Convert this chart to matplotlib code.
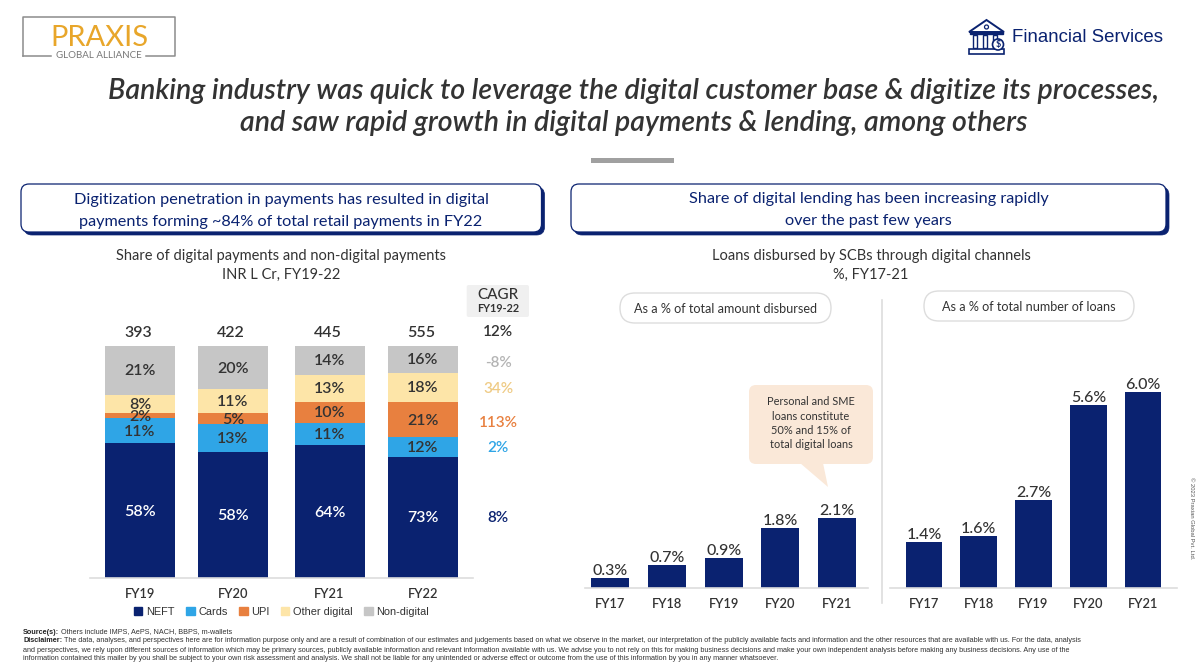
import matplotlib
matplotlib.use('Agg')
from matplotlib import pyplot as plt
from matplotlib.patches import FancyBboxPatch, Polygon, Rectangle, Circle, Patch
from matplotlib.lines import Line2D
import numpy as np

W, H = 1200, 672
NAVY = '#0A2270'
DARK = '#333333'
SANS = 'Lato'
ARIAL = 'Liberation Sans'

plt.rcParams['font.family'] = [SANS, 'DejaVu Sans']

# stacked chart data, labels as printed on the chart
years_pay = ['FY19', 'FY20', 'FY21', 'FY22']
totals = [393, 422, 445, 555]
neft = [58, 58, 64, 73]
cards = [11, 13, 11, 12]
upi = [2, 5, 10, 21]
other_digital = [8, 11, 13, 18]
non_digital = [21, 20, 14, 16]
series_names = ['NEFT', 'Cards', 'UPI', 'Other digital', 'Non-digital']
series_colors = [NAVY, '#2FA5E6', '#E8803F', '#FDE5A8', '#C6C6C6']
cagr_labels = ['12%', '-8%', '34%', '113%', '2%', '8%']
cagr_colors = ['#333333', '#B4B4B4', '#EFCB85', '#E8803F', '#2FA5E6', NAVY]
cagr_y = [332, 363, 389, 423, 448, 518]

# lending data
years_loan = ['FY17', 'FY18', 'FY19', 'FY20', 'FY21']
share_amount = [0.3, 0.7, 0.9, 1.8, 2.1]
share_number = [1.4, 1.6, 2.7, 5.6, 6.0]

fig = plt.figure(figsize=(W / 100, H / 100), dpi=100, facecolor='white')


def axes_px(x0, y0, x1, y1):
    # y0 is top, y1 is bottom, in picture pixels
    return fig.add_axes([x0 / W, 1 - y1 / H, (x1 - x0) / W, (y1 - y0) / H], facecolor='none')


def clean(ax):
    for s in ['top', 'left', 'right']:
        ax.spines[s].set_visible(False)
    ax.spines['bottom'].set_color('#DDDDDD')
    ax.spines['bottom'].set_linewidth(1.2)
    ax.set_yticks([])
    ax.tick_params(axis='x', length=0)


# stacked bars
ax = axes_px(90, 346, 473, 578)
bar_x = [140, 233, 329.5, 423]
stack = np.array([neft, cards, upi, other_digital, non_digital], dtype=float)
share = stack / stack.sum(axis=0) * 100
bottom = np.zeros(4)
for i in range(5):
    ax.bar(bar_x, share[i], 70, bottom=bottom, color=series_colors[i], label=series_names[i])
    for j in range(4):
        ax.text(bar_x[j], bottom[j] + share[i][j] / 2 - 0.4, '%d%%' % stack[i][j], ha='center', va='center',
                fontsize=11.5, color='white' if i == 0 else DARK, fontweight='semibold')
    bottom += share[i]
ax.set_xlim(90, 473)
ax.set_ylim(0, 100)
clean(ax)
ax.set_xticks(bar_x)
ax.set_xticklabels(years_pay, fontsize=9.3, fontweight='semibold', color=DARK)
ax.tick_params(axis='x', pad=7)
for j in range(4):
    ax.text(bar_x[j] - 2, 105.4, str(totals[j]), ha='center', va='center', fontsize=11.5,
            fontweight='semibold', color=DARK)
handles = [Patch(color=c) for c in series_colors]
ax.legend(handles, series_names, loc='center', bbox_to_anchor=(0.5, -0.147), ncol=5, frameon=False,
          prop={'family': ARIAL, 'size': 7.9}, handlelength=0.8, handleheight=0.8, handletextpad=0.35,
          columnspacing=1.0, labelcolor=DARK, borderpad=0)

# lending bars
ax2 = axes_px(585, 388, 868, 588)
b2 = ax2.bar(range(5), share_amount, 0.67, color=NAVY)
ax2.set_xlim(-0.444, 4.547)
ax2.set_ylim(0, 200 / 33.3)
clean(ax2)
ax2.set_xticks(range(5))
ax2.set_xticklabels(years_loan, fontsize=9.3, fontweight='semibold', color=DARK)
ax2.tick_params(axis='x', pad=7)
ax2.bar_label(b2, labels=['%.1f%%' % v for v in share_amount], padding=0, fontsize=11.5, color=DARK,
              fontweight='medium')

ax3 = axes_px(890, 388, 1177, 588)
b3 = ax3.bar(range(5), share_number, 0.667, color=NAVY)
ax3.set_xlim(-0.62, 4.62)
ax3.set_ylim(0, 200 / 32.7)
clean(ax3)
ax3.set_xticks(range(5))
ax3.set_xticklabels(years_loan, fontsize=9.3, fontweight='semibold', color=DARK)
ax3.tick_params(axis='x', pad=7)
ax3.bar_label(b3, labels=['%.1f%%' % v for v in share_number], padding=0, fontsize=11.5, color=DARK,
              fontweight='medium')

# everything else sits on a picture-pixel overlay
ov = fig.add_axes([0, 0, 1, 1], facecolor='none', zorder=5)
ov.set_xlim(0, W)
ov.set_ylim(H, 0)
ov.axis('off')


def header(x0, y0, x1, y1, lines, cx, ys):
    ov.add_patch(FancyBboxPatch((x0 + 3, y0 + 3), x1 - x0, y1 - y0, boxstyle='round,pad=0,rounding_size=8',
                                fc=NAVY, ec=NAVY, lw=0.5))
    ov.add_patch(FancyBboxPatch((x0, y0), x1 - x0, y1 - y0, boxstyle='round,pad=0,rounding_size=8',
                                fc='white', ec=NAVY, lw=0.9))
    for t, y in zip(lines, ys):
        ov.text(cx, y, t, ha='center', va='center', fontsize=11.7, color=NAVY)


# logo
ov.plot([22.6, 22.6, 174.5, 174.5, 146], [55.7, 17, 17, 55.7, 55.7], color='#8C8C8C', lw=1.1)
ov.plot([22.6, 51], [55.7, 55.7], color='#8C8C8C', lw=1.1)
ov.text(99, 37.5, 'PRAXIS', ha='center', va='center', fontsize=21, color='#E8A62A')
ov.text(98.5, 55, 'GLOBAL ALLIANCE', ha='center', va='center', fontsize=7, color='#777777')

# financial services logo
ov.add_patch(Polygon([[969, 32], [986.5, 20], [1004, 32]], closed=True, fc='white', ec=NAVY, lw=1.4))
ov.add_patch(Circle((986.5, 27), 2, fc='white', ec=NAVY, lw=0.9))
ov.add_patch(Rectangle((970, 32), 33, 2.2, fc=NAVY, ec=NAVY))
for cx in [975, 985, 995]:
    ov.add_patch(Rectangle((cx - 2, 35), 4, 13, fc='white', ec=NAVY, lw=1))
ov.add_patch(Rectangle((969, 49), 35, 4.5, fc='white', ec=NAVY, lw=1.2))
ov.add_patch(Circle((998, 44.5), 5.5, fc='white', ec=NAVY, lw=1.2, zorder=6))
ov.text(998, 44.5, '$', ha='center', va='center', fontsize=6.5, fontweight='bold', color=NAVY, zorder=7)
ov.text(1012.5, 37, 'Financial Services', ha='left', va='center', fontsize=13.4, color=NAVY, family=ARIAL)

# title
ov.text(633.5, 90.5, 'Banking industry was quick to leverage the digital customer base & digitize its processes,',
        ha='center', va='center', fontsize=20.5, style='italic', fontweight='semibold', color=DARK)
ov.text(633.5, 123.5, 'and saw rapid growth in digital payments & lending, among others',
        ha='center', va='center', fontsize=20.5, style='italic', fontweight='semibold', color=DARK)
ov.add_patch(Rectangle((590.5, 158), 83.5, 4.7, fc='#A0A0A0', ec='none'))

header(21, 184, 541.5, 232,
       ['Digitization penetration in payments has resulted in digital',
        'payments forming ~84% of total retail payments in FY22'], 281, [200, 222])
header(571, 184, 1166, 232,
       ['Share of digital lending has been increasing rapidly', 'over the past few years'], 868.6, [199, 221])

for t, y in zip(['Share of digital payments and non-digital payments', 'INR L Cr, FY19-22'], [256, 275]):
    ov.text(281, y, t, ha='center', va='center', fontsize=10.5, color=DARK)
for t, y in zip(['Loans disbursed by SCBs through digital channels', '%, FY17-21'], [256, 275]):
    ov.text(871, y, t, ha='center', va='center', fontsize=10.5, color=DARK)

# CAGR column
ov.add_patch(FancyBboxPatch((466.7, 285), 62.3, 32, boxstyle='round,pad=0,rounding_size=2', fc='#F0F0F0', ec='none'))
ov.text(498, 295, 'CAGR', ha='center', va='center', fontsize=11, fontweight='medium', color=DARK)
ov.text(498, 309, 'FY19-22', ha='center', va='center', fontsize=7.8, fontweight='bold', color=DARK)
for t, c, y in zip(cagr_labels, cagr_colors, cagr_y):
    ov.text(498, y, t, ha='center', va='center', fontsize=11, fontweight='semibold', color=c)

# pills
for x0, y0, x1, y1, t in [(620, 293, 831, 323, 'As a % of total amount disbursed'),
                          (924, 291, 1134, 321, 'As a % of total number of loans')]:
    ov.add_patch(FancyBboxPatch((x0, y0), x1 - x0, y1 - y0, boxstyle='round,pad=0,rounding_size=15',
                                fc='white', ec='#DDDDDD', lw=1))
    ov.text((x0 + x1) / 2, (y0 + y1) / 2 + 1, t, ha='center', va='center', fontsize=9.05, color=DARK)
ov.add_line(Line2D([882, 882], [300, 603], color='#DDDDDD', lw=1.2))

# callout
ov.add_patch(FancyBboxPatch((749, 385), 124, 79, boxstyle='round,pad=0,rounding_size=7', fc='#FAE8D8', ec='none'))
ov.add_patch(Polygon([[800, 463], [823, 463], [828, 487]], closed=True, fc='#FAE8D8', ec='none'))
for t, y in zip(['Personal and SME', 'loans constitute', '50% and 15% of', 'total digital loans'], [401.5, 416, 430.5, 445]):
    ov.text(811, y, t, ha='center', va='center', fontsize=7.9, color=DARK)

ov.text(1191, 518, '© 2023 Praxian Global Pvt. Ltd.', rotation=270, ha='center', va='center',
        fontsize=4.2, color='#555555', family=ARIAL)


# footer
def bold_then_plain(x, y, head, rest, size):
    tb = ov.text(x, y, head, ha='left', va='center', fontsize=size, fontweight='bold', color='#222222', family=ARIAL)
    bb = tb.get_window_extent(fig.canvas.get_renderer())
    ov.text(bb.x1 + 2, y, rest, ha='left', va='center', fontsize=size, color='#333333', family=ARIAL)


FOOT = 5.2
bold_then_plain(23, 632, 'Source(s):', 'Others include IMPS, AePS, NACH, BBPS, m-wallets', FOOT)
bold_then_plain(23, 641, 'Disclaimer:',
                'The data, analyses, and perspectives here are for information purpose only and are a result of combination of our estimates and judgements based on what we observe in the market, our interpretation of the publicly available facts and information and the other resources that are available with us. For the data, analysis',
                FOOT)
ov.text(23, 650, 'and perspectives, we rely upon different sources of information which may be primary sources, publicly available information and relevant information available with us. We advise you to not rely on this for making business decisions and make your own independent analysis before making any business decisions. Any use of the',
        ha='left', va='center', fontsize=FOOT, color='#333333', family=ARIAL)
ov.text(23, 659, 'information contained this mailer by you shall be subject to your own risk assessment and analysis. We shall not be liable for any unintended or adverse effect or outcome from the use of this information by you in any manner whatsoever.',
        ha='left', va='center', fontsize=FOOT, color='#333333', family=ARIAL)

fig.savefig('out.png', dpi=100)
